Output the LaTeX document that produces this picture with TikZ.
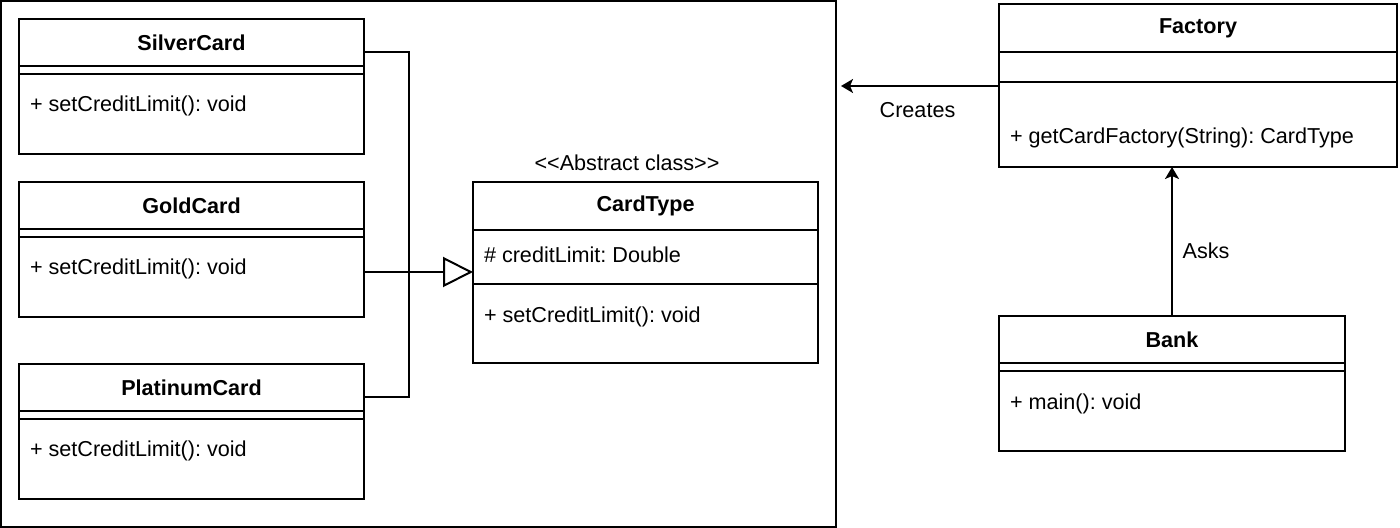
\documentclass[tikz,border=0pt]{standalone}
\usepackage{fontspec}
\setmainfont{Liberation Sans}
\usetikzlibrary{positioning, arrows.meta}
\frenchspacing

\begin{document}
\begin{tikzpicture}[
        x=0.5pt, y=-0.5pt,
        node distance=0pt,
        font=\fontsize{10.8}{13}\selectfont,
        every node/.style={outer sep=0pt},
        title/.style={draw=black, line width=1pt, minimum height=23.5pt, font=\fontsize{10.8}{13}\selectfont\bfseries},
        card/.style={title, minimum width=172.5pt},
        part/.style={draw=black, line width=1pt, inner sep=0pt, minimum width=172.5pt},
        member/.style={anchor=west, inner sep=0pt},
        link/.style={line width=1pt},
        inherit/.style={line width=1pt, -{Triangle[open, length=15pt, width=15pt]}},
        arrow/.style={line width=1pt, -{Stealth[length=6pt, width=7pt, inset=1.5pt]}}
        ]

        \useasboundingbox (0,0) rectangle (1400,528);

        % frame round the card classes
        \node[draw=black, line width=1pt, minimum width=417.5pt, minimum height=263pt] (cards) at (418.5,264) {};

        % SilverCard
        \node[card] (silver) at (191.5,42.5) {SilverCard};
        \node[part, minimum height=4pt, below=of silver] (silverattr) {};
        \node[part, minimum height=40pt, below=of silverattr] (silverops) {};
        \node[member] (silvertxt) at (30,106) {+ setCreditLimit(): void};

        % GoldCard
        \node[card] (gold) at (191.5,205.5) {GoldCard};
        \node[part, minimum height=4pt, below=of gold] (goldattr) {};
        \node[part, minimum height=40pt, below=of goldattr] (goldops) {};
        \node[member] (goldtxt) at (30,269) {+ setCreditLimit(): void};

        % PlatinumCard
        \node[card] (platinum) at (191.5,387.5) {PlatinumCard};
        \node[part, minimum height=4pt, below=of platinum] (platinumattr) {};
        \node[part, minimum height=40pt, below=of platinumattr] (platinumops) {};
        \node[member] (platinumtxt) at (30,451) {+ setCreditLimit(): void};

        % CardType
        \node (ctypestereo) at (627,163) {<{}<Abstract class>{}>};
        \node[card, minimum height=24pt] (ctype) at (645.5,206) {CardType};
        \node[part, minimum height=27pt, below=of ctype] (ctypeattr) {};
        \node[part, minimum height=39.5pt, below=of ctypeattr] (ctypeops) {};
        \node[member] (ctypeattrtxt) at (484,255) {\# creditLimit: Double};
        \node[member] (ctypeopstxt) at (484,317) {+ setCreditLimit(): void};

        % Factory
        \node[title, minimum width=199pt, minimum height=24pt] (factory) at (1198,28) {Factory};
        \node[part, minimum width=199pt, minimum height=15pt, below=of factory] (factoryattr) {};
        \node[part, minimum width=199pt, minimum height=42.5pt, below=of factoryattr] (factoryops) {};
        \node[member] (factorytxt) at (1010,138) {+ getCardFactory(String): CardType};

        % Bank
        \node[title, minimum width=173pt] (bank) at (1172,339.5) {Bank};
        \node[part, minimum width=173pt, minimum height=4pt, below=of bank] (bankattr) {};
        \node[part, minimum width=173pt, minimum height=40pt, below=of bankattr] (bankops) {};
        \node[member] (banktxt) at (1010,404) {+ main(): void};

        % connectors
        \coordinate (bus) at (409,272);
        \draw[link] ([yshift=-5pt]silver.east) -| (bus) |- ([yshift=-4.75pt]platinum.east);
        \draw[inherit] (goldops.east |- bus) -- (ctypeattr.west |- bus);

        \coordinate (crt) at ([yshift=-2pt]factoryops.north west);
        \draw[arrow, shorten >=2.5pt] (crt) -- (crt -| cards.east) node[midway, below=5pt] (creates) {Creates};
        \draw[arrow] (bank.north) -- (bank.north |- factoryops.south) node[pos=0.44, right=2pt] (asks) {Asks};
    \end{tikzpicture}
\end{document}
